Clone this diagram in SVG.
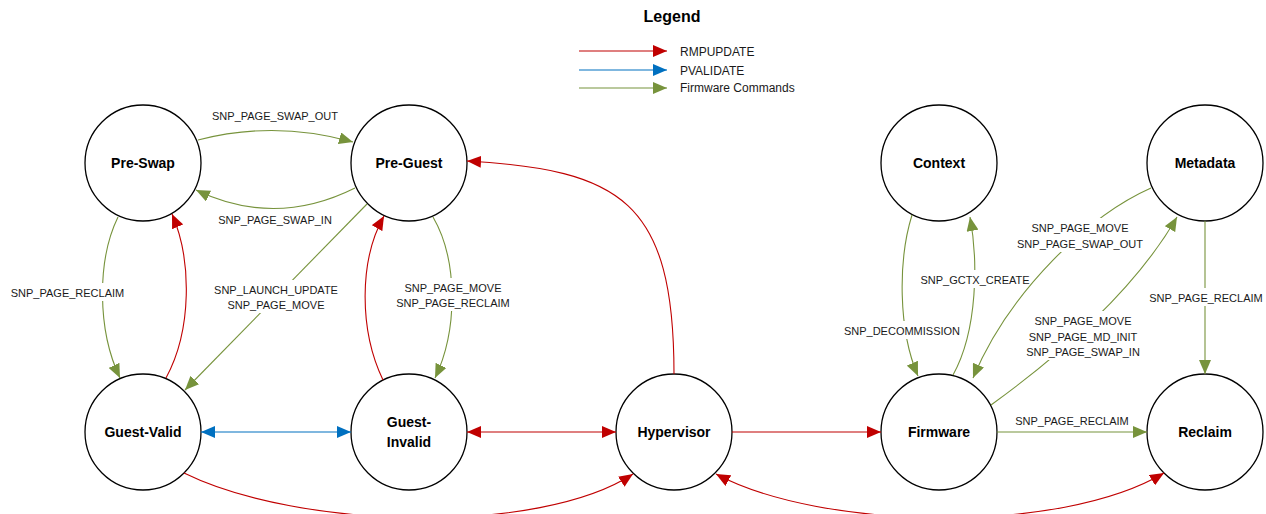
<svg xmlns="http://www.w3.org/2000/svg" width="1266" height="514" viewBox="0 0 1266 514">
<style>
.node circle{fill:#fff;stroke:#000;stroke-width:1.3}
.node text{font-family:"Liberation Sans",Arial,sans-serif;font-weight:bold;font-size:14px;text-anchor:middle;fill:#000}
.c{fill:none;stroke-width:1.1}
.r{stroke:#C00000}
.b{stroke:#0070C0}
.g{stroke:#77933C}
.lbl{font-family:"Liberation Sans",Arial,sans-serif;font-size:11px;text-anchor:middle;fill:#1a1a1a}
.bg{fill:#fff}
.leg{font-family:"Liberation Sans",Arial,sans-serif;font-size:12px;fill:#1a1a1a}
</style>
<defs>
<marker id="ar" markerUnits="userSpaceOnUse" markerWidth="14" markerHeight="12" refX="14" refY="6" orient="auto-start-reverse"><path d="M0,0 L14,6 L0,12 z" fill="#C00000"/></marker>
<marker id="ab" markerUnits="userSpaceOnUse" markerWidth="14" markerHeight="12" refX="14" refY="6" orient="auto-start-reverse"><path d="M0,0 L14,6 L0,12 z" fill="#0070C0"/></marker>
<marker id="ag" markerUnits="userSpaceOnUse" markerWidth="14" markerHeight="12" refX="14" refY="6" orient="auto-start-reverse"><path d="M0,0 L14,6 L0,12 z" fill="#77933C"/></marker>
</defs>
<rect width="1266" height="514" fill="#fff"/>

<g id="legend">
<text x="672" y="22" font-family="'Liberation Sans',Arial,sans-serif" font-size="16" font-weight="bold" text-anchor="middle">Legend</text>
<path class="c r" d="M579,51 L667,51" stroke-width="1.5" marker-end="url(#ar)"/>
<path class="c b" d="M579,70 L667,70" stroke-width="1.5" marker-end="url(#ab)"/>
<path class="c g" d="M579,88 L667,88" stroke-width="1.5" marker-end="url(#ag)"/>
<text class="leg" x="680" y="55.5">RMPUPDATE</text>
<text class="leg" x="680" y="74.5">PVALIDATE</text>
<text class="leg" x="680" y="92">Firmware Commands</text>
</g>

<g id="node-pre-swap" class="node"><circle cx="143" cy="163" r="58"/><text x="143" y="168">Pre-Swap</text></g>
<g id="node-pre-guest" class="node"><circle cx="409" cy="163" r="58"/><text x="409" y="168">Pre-Guest</text></g>
<g id="node-guest-valid" class="node"><circle cx="143" cy="432" r="58"/><text x="143" y="437">Guest-Valid</text></g>
<g id="node-guest-invalid" class="node"><circle cx="409" cy="432" r="58"/><text x="409" y="427">Guest-</text><text x="409" y="447">Invalid</text></g>
<g id="node-hypervisor" class="node"><circle cx="674" cy="432" r="58"/><text x="674" y="437">Hypervisor</text></g>
<g id="node-context" class="node"><circle cx="939" cy="163" r="58"/><text x="939" y="168">Context</text></g>
<g id="node-metadata" class="node"><circle cx="1205" cy="163" r="58"/><text x="1205" y="168">Metadata</text></g>
<g id="node-firmware" class="node"><circle cx="939" cy="432" r="58"/><text x="939" y="437">Firmware</text></g>
<g id="node-reclaim" class="node"><circle cx="1205" cy="432" r="58"/><text x="1205" y="437">Reclaim</text></g>

<g id="connectors">
<path class="c g" d="M198,140 Q275,120 353,142" marker-end="url(#ag)"/>
<text class="lbl" x="275" y="120">SNP_PAGE_SWAP_OUT</text>

<path class="c g" d="M355,188 Q275,228 196,190" marker-end="url(#ag)"/>
<text class="lbl" x="275" y="224">SNP_PAGE_SWAP_IN</text>

<path class="c g" d="M118,217 C97,260 97,330 120,378" marker-end="url(#ag)"/>
<rect class="bg" x="8.5" y="283" width="118" height="18"/>
<text class="lbl" x="67.5" y="297">SNP_PAGE_RECLAIM</text>

<path class="c r" d="M166,378 C192,330 192,260 172,214" marker-end="url(#ar)"/>

<path class="c g" d="M367,204 L185,390" marker-end="url(#ag)"/>
<rect class="bg" x="210" y="280" width="132" height="33"/>
<text class="lbl" x="276" y="294">SNP_LAUNCH_UPDATE</text>
<text class="lbl" x="276" y="309">SNP_PAGE_MOVE</text>

<path class="c r" d="M383,380 C359,330 359,260 384,216" marker-end="url(#ar)"/>

<path class="c g" d="M433,217 C458,260 458,330 435,378" marker-end="url(#ag)"/>
<rect class="bg" x="393" y="278" width="120" height="33"/>
<text class="lbl" x="453" y="292">SNP_PAGE_MOVE</text>
<text class="lbl" x="453" y="307">SNP_PAGE_RECLAIM</text>

<path class="c b" d="M201,432 L351,432" stroke-width="1.5" marker-start="url(#ab)" marker-end="url(#ab)"/>
<path class="c r" d="M467,432 L616,432" stroke-width="1.5" marker-start="url(#ar)" marker-end="url(#ar)"/>
<path class="c r" d="M674,374 C674,200 620,170 467,161" marker-end="url(#ar)"/>
<path class="c r" d="M732,432 L881,432" stroke-width="1.5" marker-end="url(#ar)"/>
<path class="c r" d="M184,473 C300,530 540,535 633,474" marker-end="url(#ar)"/>
<path class="c r" d="M716,474 C820,530 1060,535 1164,473" marker-start="url(#ar)" marker-end="url(#ar)"/>

<path class="c g" d="M912,215 C898,260 898,330 918,376" marker-end="url(#ag)"/>
<rect class="bg" x="843" y="321" width="118" height="18"/>
<text class="lbl" x="902" y="335">SNP_DECOMMISSION</text>

<path class="c g" d="M953,375 C978,330 978,260 970,217" marker-end="url(#ag)"/>
<rect class="bg" x="920" y="270" width="110" height="18"/>
<text class="lbl" x="975" y="284">SNP_GCTX_CREATE</text>

<path class="c g" d="M1151,188 C1090,215 1010,290 973,378" marker-end="url(#ag)"/>
<rect class="bg" x="1015" y="218" width="130" height="34"/>
<text class="lbl" x="1080" y="232">SNP_PAGE_MOVE</text>
<text class="lbl" x="1080" y="248">SNP_PAGE_SWAP_OUT</text>

<path class="c g" d="M991,405 C1060,355 1135,290 1177,217" marker-end="url(#ag)"/>
<rect class="bg" x="1024" y="311" width="118" height="49"/>
<text class="lbl" x="1083" y="325">SNP_PAGE_MOVE</text>
<text class="lbl" x="1083" y="341">SNP_PAGE_MD_INIT</text>
<text class="lbl" x="1083" y="356">SNP_PAGE_SWAP_IN</text>

<path class="c g" d="M1205,221 L1205,374" marker-end="url(#ag)"/>
<rect class="bg" x="1147" y="288" width="118" height="18"/>
<text class="lbl" x="1206" y="302">SNP_PAGE_RECLAIM</text>

<path class="c g" d="M997,432 L1147,432" stroke-width="1.5" marker-end="url(#ag)"/>
<text class="lbl" x="1072" y="425">SNP_PAGE_RECLAIM</text>
</g>
</svg>
